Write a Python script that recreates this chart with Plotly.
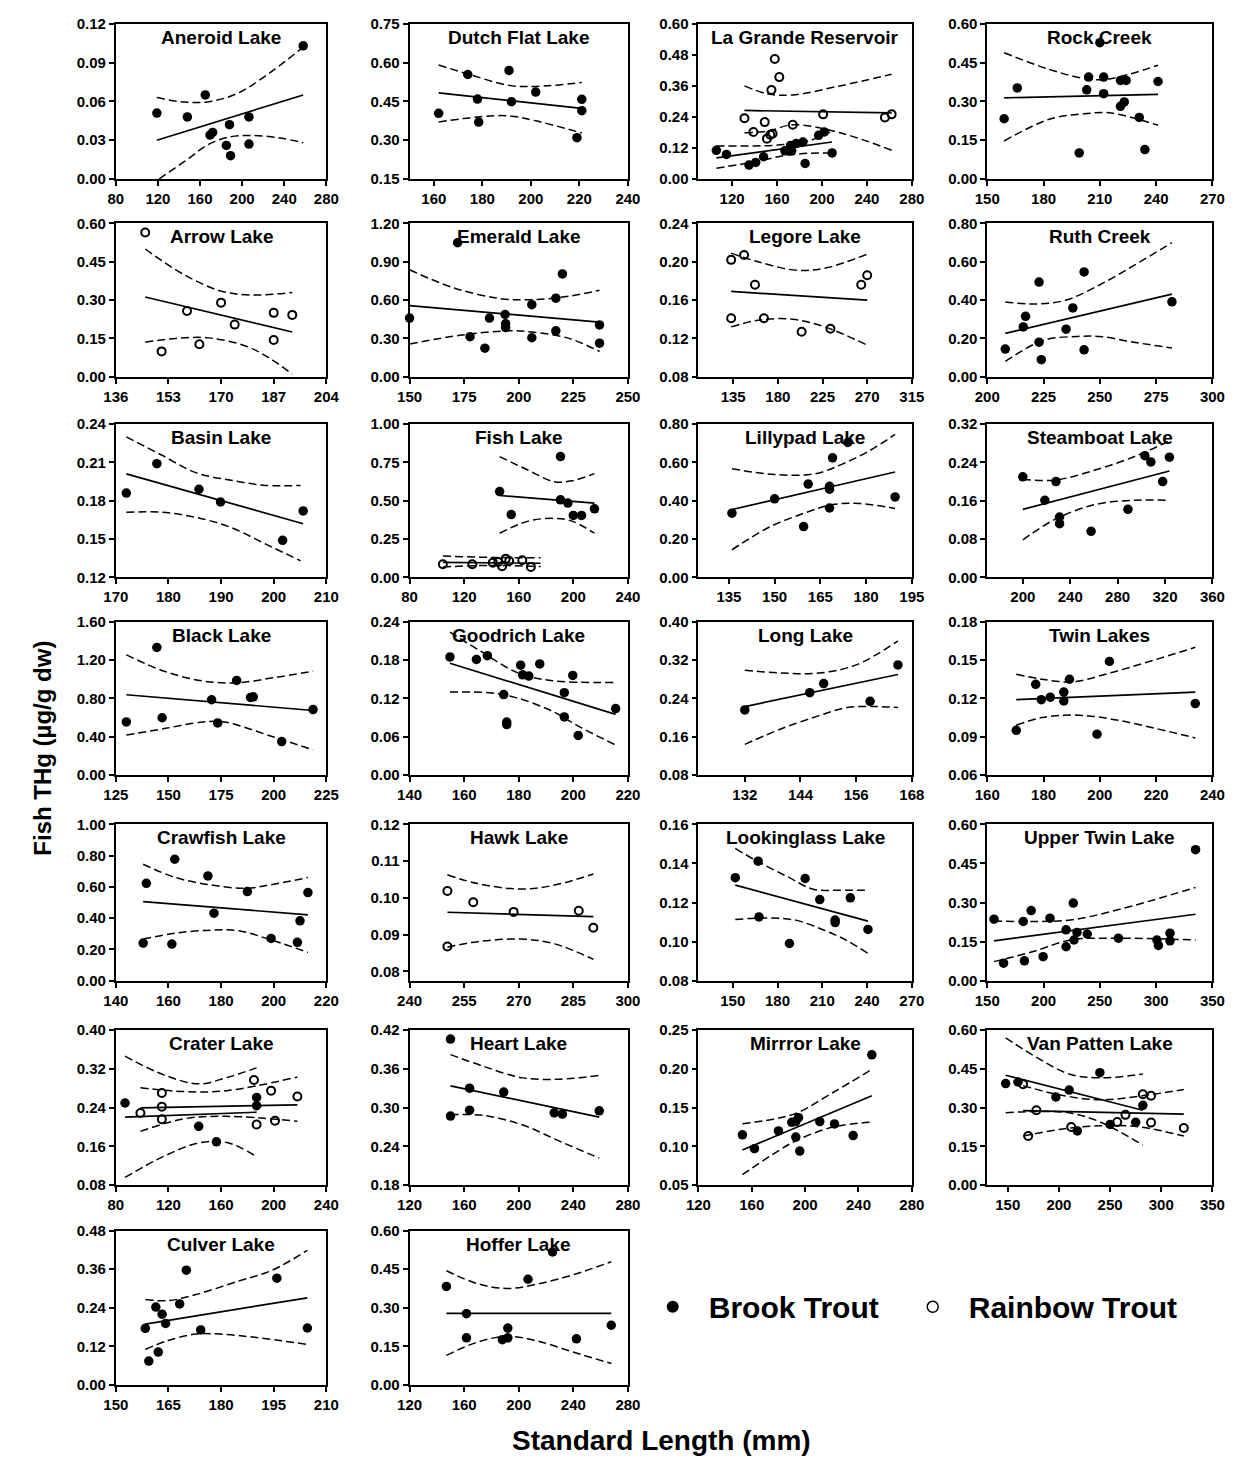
import plotly.graph_objects as go

W, H = 1247, 1466

# ======================= DATA =======================
# --- Aneroid Lake (brook trout)
aneroid_xticks = [80, 120, 160, 200, 240, 280]
aneroid_yticks = [0.00, 0.03, 0.06, 0.09, 0.12]
aneroid_bt_x = [119, 148, 165, 169.5, 172, 185, 188, 189, 206.5, 206.5, 258]
aneroid_bt_y = [0.051, 0.048, 0.065, 0.034, 0.036, 0.026, 0.042, 0.018, 0.048, 0.027, 0.103]
aneroid_bt_fit = [(119, 0.030), (258, 0.065)]
aneroid_bt_hi = [(119, 0.063), (145, 0.0595), (170, 0.060), (195, 0.066), (221, 0.079), (258, 0.102)]
aneroid_bt_lo = [(121, 0.0), (146, 0.014), (168.5, 0.027), (188, 0.0325), (208, 0.0336), (234, 0.032), (258, 0.028)]

# --- Dutch Flat Lake (brook trout)
dutch_xrange = [150, 240]
dutch_xticks = [160, 180, 200, 220, 240]
dutch_yticks = [0.15, 0.30, 0.45, 0.60, 0.75]
dutch_bt_x = [162, 174, 178, 178.5, 191, 192, 202, 219, 221, 221]
dutch_bt_y = [0.404, 0.554, 0.459, 0.370, 0.570, 0.449, 0.486, 0.310, 0.458, 0.414]
dutch_bt_fit = [(162, 0.483), (221, 0.423)]
dutch_bt_hi = [(162, 0.591), (175, 0.553), (191, 0.512), (202, 0.508), (221, 0.523)]
dutch_bt_lo = [(162, 0.370), (178, 0.390), (191, 0.394), (202, 0.375), (221, 0.328)]

# --- La Grande Reservoir (brook + rainbow)
lagrande_xrange = [90, 280]
lagrande_xticks = [120, 160, 200, 240, 280]
lagrande_yticks = [0.00, 0.12, 0.24, 0.36, 0.48, 0.60]
lagrande_bt_x = [106, 115, 135, 141, 148, 167, 172, 173, 177, 183, 185, 197, 202, 209]
lagrande_bt_y = [0.111, 0.095, 0.054, 0.064, 0.086, 0.109, 0.130, 0.109, 0.137, 0.143, 0.060, 0.169, 0.182, 0.101]
lagrande_bt_fit = [(106, 0.082), (209, 0.143)]
lagrande_bt_hi = [(106, 0.128), (140, 0.128), (166, 0.133), (190, 0.150), (209, 0.185)]
lagrande_bt_lo = [(106, 0.042), (140, 0.066), (166, 0.090), (190, 0.100), (209, 0.100)]
lagrande_rt_x = [131, 139, 149, 151, 154, 156, 155, 158, 162, 174, 201, 256, 262]
lagrande_rt_y = [0.235, 0.182, 0.220, 0.156, 0.171, 0.175, 0.344, 0.464, 0.394, 0.210, 0.250, 0.238, 0.250]
lagrande_rt_fit = [(131, 0.265), (262, 0.256)]
lagrande_rt_hi = [(131, 0.360), (152, 0.329), (174, 0.325), (216, 0.360), (262, 0.405)]
lagrande_rt_lo = [(131, 0.179), (152, 0.185), (174, 0.210), (216, 0.179), (262, 0.111)]

# --- Rock Creek (brook trout)
rock_xticks = [150, 180, 210, 240, 270]
rock_yticks = [0.00, 0.15, 0.30, 0.45, 0.60]
rock_bt_x = [159, 166, 199, 203, 204, 210, 212, 212, 221, 223, 221, 224, 231, 234, 241]
rock_bt_y = [0.233, 0.352, 0.101, 0.345, 0.394, 0.527, 0.394, 0.330, 0.281, 0.298, 0.381, 0.381, 0.238, 0.114, 0.377]
rock_bt_fit = [(159, 0.314), (241, 0.327)]
rock_bt_hi = [(159, 0.488), (183, 0.424), (203, 0.387), (215, 0.387), (241, 0.440)]
rock_bt_lo = [(159, 0.147), (183, 0.231), (203, 0.253), (215, 0.256), (241, 0.208)]

# --- Arrow Lake (rainbow trout)
arrow_xticks = [136, 153, 170, 187, 204]
arrow_yticks = [0.00, 0.15, 0.30, 0.45, 0.60]
arrow_rt_x = [145.5, 150.8, 159, 163, 170, 174.4, 187, 187, 193]
arrow_rt_y = [0.565, 0.099, 0.257, 0.127, 0.290, 0.204, 0.250, 0.144, 0.242]
arrow_rt_fit = [(145.5, 0.312), (193, 0.175)]
arrow_rt_hi = [(145.5, 0.500), (158, 0.400), (170, 0.335), (180, 0.320), (193, 0.330)]
arrow_rt_lo = [(145.5, 0.135), (155.5, 0.150), (166, 0.152), (178, 0.120), (186, 0.070), (193, 0.010)]

# --- Emerald Lake (brook trout)
emerald_xticks = [150, 175, 200, 225, 250]
emerald_yticks = [0.00, 0.30, 0.60, 0.90, 1.20]
emerald_bt_x = [150, 172, 177.7, 184.5, 186.6, 193.75, 194, 194, 206, 206, 217, 217, 220, 237, 237]
emerald_bt_y = [0.459, 1.049, 0.313, 0.223, 0.459, 0.487, 0.415, 0.385, 0.564, 0.305, 0.359, 0.615, 0.805, 0.405, 0.262]
emerald_bt_fit = [(150, 0.556), (237, 0.428)]
emerald_bt_hi = [(150, 0.838), (170, 0.697), (191, 0.613), (206, 0.603), (223, 0.630), (237, 0.677)]
emerald_bt_lo = [(150, 0.256), (174, 0.326), (195, 0.359), (206, 0.350), (223, 0.300), (237, 0.197)]

# --- Legore Lake (rainbow trout)
legore_xrange = [100, 315]
legore_xticks = [135, 180, 225, 270, 315]
legore_yticks = [0.08, 0.12, 0.16, 0.20, 0.24]
legore_rt_x = [133, 146, 157, 133, 166, 204, 233, 264, 270]
legore_rt_y = [0.202, 0.207, 0.176, 0.141, 0.141, 0.127, 0.130, 0.176, 0.186]
legore_rt_fit = [(133, 0.169), (270, 0.160)]
legore_rt_hi = [(133, 0.209), (160, 0.200), (200, 0.191), (230, 0.194), (270, 0.208)]
legore_rt_lo = [(133, 0.132), (160, 0.139), (195, 0.140), (230, 0.131), (270, 0.113)]

# --- Ruth Creek (brook trout)
ruth_xticks = [200, 225, 250, 275, 300]
ruth_yticks = [0.00, 0.20, 0.40, 0.60, 0.80]
ruth_bt_x = [208, 216, 217, 223, 223, 224, 235, 238, 243, 243, 282]
ruth_bt_y = [0.144, 0.260, 0.315, 0.494, 0.180, 0.089, 0.248, 0.359, 0.140, 0.547, 0.391]
ruth_bt_fit = [(208, 0.226), (282, 0.431)]
ruth_bt_hi = [(208, 0.390), (222, 0.380), (235, 0.400), (250, 0.480), (265, 0.580), (282, 0.700)]
ruth_bt_lo = [(208, 0.080), (225, 0.190), (240, 0.210), (250, 0.210), (265, 0.180), (282, 0.150)]

# --- Basin Lake (brook trout)
basin_xticks = [170, 180, 190, 200, 210]
basin_yticks = [0.12, 0.15, 0.18, 0.21, 0.24]
basin_bt_x = [172, 177.8, 185.8, 189.9, 201.7, 205.6]
basin_bt_y = [0.186, 0.209, 0.189, 0.179, 0.149, 0.172]
basin_bt_fit = [(172, 0.201), (205.6, 0.162)]
basin_bt_hi = [(172, 0.230), (178.6, 0.216), (185.2, 0.202), (191.9, 0.196), (198.5, 0.192), (205.1, 0.192)]
basin_bt_lo = [(172, 0.171), (178.6, 0.171), (185.2, 0.167), (191.9, 0.159), (198.5, 0.146), (205.1, 0.133)]

# --- Fish Lake (brook + rainbow)
fish_xticks = [80, 120, 160, 200, 240]
fish_yticks = [0.00, 0.25, 0.50, 0.75, 1.00]
fish_bt_x = [146, 154.5, 190.6, 190.6, 196, 200, 206, 215.5]
fish_bt_y = [0.560, 0.410, 0.788, 0.506, 0.485, 0.404, 0.404, 0.447]
fish_bt_fit = [(146, 0.534), (215.5, 0.485)]
fish_bt_hi = [(146, 0.788), (167, 0.699), (186, 0.624), (199, 0.630), (215.5, 0.677)]
fish_bt_lo = [(146, 0.288), (167, 0.367), (186, 0.385), (199, 0.367), (215.5, 0.288)]
fish_rt_x = [104.4, 126, 141, 145, 147.8, 150.5, 153, 162.6, 168.9]
fish_rt_y = [0.085, 0.085, 0.096, 0.100, 0.073, 0.122, 0.107, 0.111, 0.068]
fish_rt_fit = [(104.4, 0.097), (176, 0.092)]
fish_rt_hi = [(104.4, 0.139), (140, 0.130), (176, 0.128)]
fish_rt_lo = [(104.4, 0.068), (140, 0.078), (176, 0.070)]

# --- Lillypad Lake (brook trout)
lilly_xrange = [125, 195]
lilly_xticks = [135, 150, 165, 180, 195]
lilly_yticks = [0.00, 0.20, 0.40, 0.60, 0.80]
lilly_bt_x = [136, 150, 161, 159.5, 168, 168, 168, 169, 174, 189.5]
lilly_bt_y = [0.335, 0.410, 0.487, 0.265, 0.475, 0.460, 0.362, 0.624, 0.704, 0.420]
lilly_bt_fit = [(136, 0.354), (189.5, 0.550)]
lilly_bt_hi = [(136, 0.567), (150, 0.537), (163, 0.540), (172, 0.590), (181, 0.660), (189.5, 0.747)]
lilly_bt_lo = [(136, 0.144), (148, 0.260), (160, 0.337), (169, 0.380), (178, 0.385), (189.5, 0.360)]

# --- Steamboat Lake (brook trout)
steam_xrange = [170, 360]
steam_xticks = [200, 240, 280, 320, 360]
steam_yticks = [0.00, 0.08, 0.16, 0.24, 0.32]
steam_bt_x = [200, 218.6, 228, 231, 231, 257.6, 288.7, 303, 308, 318, 323.7]
steam_bt_y = [0.210, 0.161, 0.200, 0.126, 0.112, 0.096, 0.142, 0.254, 0.241, 0.200, 0.251]
steam_bt_fit = [(200, 0.142), (323.7, 0.222)]
steam_bt_hi = [(200, 0.205), (227, 0.203), (261, 0.224), (295, 0.253), (323.7, 0.285)]
steam_bt_lo = [(200, 0.078), (227, 0.121), (261, 0.152), (295, 0.161), (323.7, 0.161)]

# --- Black Lake (brook trout)
black_xticks = [125, 150, 175, 200, 225]
black_yticks = [0.00, 0.40, 0.80, 1.20, 1.60]
black_bt_x = [130, 144.5, 147, 170.5, 173.4, 182.4, 189, 190.3, 203.8, 218.7]
black_bt_y = [0.554, 1.333, 0.598, 0.786, 0.544, 0.988, 0.810, 0.817, 0.349, 0.684]
black_bt_fit = [(130, 0.838), (218.7, 0.674)]
black_bt_hi = [(130, 1.255), (148, 1.084), (166.5, 0.981), (183, 0.964), (199.6, 1.015), (218.7, 1.084)]
black_bt_lo = [(130, 0.417), (148, 0.485), (166.5, 0.554), (176.5, 0.554), (199.6, 0.400), (218.7, 0.263)]

# --- Goodrich Lake (brook trout)
good_xticks = [140, 160, 180, 200, 220]
good_yticks = [0.00, 0.06, 0.12, 0.18, 0.24]
good_bt_x = [154.8, 164.5, 168.5, 174.5, 175.6, 175.6, 180.7, 181.4, 183.7, 187.7, 196.7, 196.7, 199.8, 201.8, 215.5]
good_bt_y = [0.185, 0.181, 0.187, 0.126, 0.083, 0.079, 0.172, 0.157, 0.155, 0.174, 0.129, 0.091, 0.156, 0.062, 0.104]
good_bt_fit = [(154.8, 0.175), (215.5, 0.095)]
good_bt_hi = [(154.8, 0.224), (166, 0.194), (179.7, 0.160), (191.8, 0.148), (215.5, 0.145)]
good_bt_lo = [(154.8, 0.130), (169, 0.129), (178.3, 0.122), (191.8, 0.101), (202.5, 0.075), (215.5, 0.047)]

# --- Long Lake (brook trout)
long_xrange = [122, 168]
long_xticks = [132, 144, 156, 168]
long_yticks = [0.08, 0.16, 0.24, 0.32, 0.40]
long_bt_x = [132, 146, 149, 159, 165]
long_bt_y = [0.216, 0.252, 0.271, 0.234, 0.310]
long_bt_fit = [(132, 0.223), (165, 0.290)]
long_bt_hi = [(132, 0.299), (140, 0.293), (148, 0.293), (156, 0.310), (165, 0.360)]
long_bt_lo = [(132, 0.144), (140, 0.177), (148, 0.204), (154, 0.221), (160, 0.223), (165, 0.221)]

# --- Twin Lakes (brook trout)
twin_xticks = [160, 180, 200, 220, 240]
twin_yticks = [0.06, 0.09, 0.12, 0.15, 0.18]
twin_bt_x = [170.3, 177.2, 179.2, 182.4, 187.2, 187.2, 189.2, 199, 203.4, 233.9]
twin_bt_y = [0.095, 0.131, 0.119, 0.121, 0.125, 0.118, 0.135, 0.092, 0.149, 0.116]
twin_bt_fit = [(170.3, 0.119), (233.9, 0.125)]
twin_bt_hi = [(170.3, 0.139), (179.5, 0.135), (190.3, 0.133), (203.7, 0.140), (233.9, 0.160)]
twin_bt_lo = [(170.3, 0.099), (179.5, 0.105), (190.3, 0.107), (203.7, 0.104), (233.9, 0.089)]

# --- Crawfish Lake (brook trout)
craw_xticks = [140, 160, 180, 200, 220]
craw_yticks = [0.00, 0.20, 0.40, 0.60, 0.80, 1.00]
craw_bt_x = [150.4, 151.6, 162.4, 161.3, 175, 177.3, 190, 199, 209, 210, 213]
craw_bt_y = [0.240, 0.623, 0.777, 0.234, 0.670, 0.432, 0.570, 0.270, 0.245, 0.383, 0.564]
craw_bt_fit = [(150.4, 0.506), (213, 0.421)]
craw_bt_hi = [(150.4, 0.745), (162.7, 0.660), (176, 0.613), (189.3, 0.591), (200, 0.617), (213, 0.660)]
craw_bt_lo = [(150.4, 0.266), (162.7, 0.304), (176, 0.323), (186.7, 0.319), (200, 0.255), (213, 0.181)]

# --- Hawk Lake (rainbow trout)
hawk_xticks = [240, 255, 270, 285, 300]
hawk_yrange = [0.0775, 0.12]
hawk_yticks = [0.08, 0.09, 0.10, 0.11, 0.12]
hawk_rt_x = [250.4, 257.5, 268.6, 286.5, 290.5, 250.4]
hawk_rt_y = [0.1019, 0.0988, 0.0962, 0.0965, 0.0919, 0.0868]
hawk_rt_fit = [(250.4, 0.0961), (290.5, 0.0949)]
hawk_rt_hi = [(250.4, 0.1063), (258.7, 0.1039), (270.8, 0.1024), (279.9, 0.1035), (290.5, 0.1065)]
hawk_rt_lo = [(250.4, 0.0866), (258.7, 0.0881), (270.8, 0.0888), (279.9, 0.0875), (290.5, 0.0833)]

# --- Lookinglass Lake (brook trout)
look_xrange = [127, 270]
look_xticks = [150, 180, 210, 240, 270]
look_yticks = [0.08, 0.10, 0.12, 0.14, 0.16]
look_bt_x = [151.7, 167, 167.6, 188, 198.5, 208.3, 218.6, 218.6, 228.8, 240.6]
look_bt_y = [0.1327, 0.1412, 0.1126, 0.0990, 0.1323, 0.1215, 0.1110, 0.1097, 0.1224, 0.1062]
look_bt_fit = [(151.7, 0.1289), (240.6, 0.1105)]
look_bt_hi = [(151.7, 0.1477), (167, 0.1409), (186.8, 0.1332), (203.9, 0.1268), (221.1, 0.1263), (240.6, 0.1263)]
look_bt_lo = [(151.7, 0.1113), (172, 0.1121), (191.7, 0.1110), (211.3, 0.1058), (226, 0.1007), (240.6, 0.0940)]

# --- Upper Twin Lake (brook trout)
utwin_xticks = [150, 200, 250, 300, 350]
utwin_yticks = [0.00, 0.15, 0.30, 0.45, 0.60]
utwin_bt_x = [156, 164.5, 182, 183, 189, 199.6, 205.7, 220, 220, 226.4, 227, 229.7, 238.8, 266.5, 300.7, 302, 312.3, 312.3, 335]
utwin_bt_y = [0.236, 0.067, 0.227, 0.076, 0.269, 0.092, 0.240, 0.195, 0.130, 0.298, 0.156, 0.185, 0.179, 0.163, 0.156, 0.135, 0.182, 0.153, 0.503]
utwin_bt_fit = [(156, 0.153), (335, 0.255)]
utwin_bt_hi = [(156, 0.229), (191, 0.227), (224, 0.233), (266, 0.272), (335, 0.358)]
utwin_bt_lo = [(156, 0.073), (191, 0.112), (224, 0.156), (266, 0.163), (335, 0.156)]

# --- Crater Lake (brook + rainbow)
crater_xticks = [80, 120, 160, 200, 240]
crater_yticks = [0.08, 0.16, 0.24, 0.32, 0.40]
crater_bt_x = [87, 143, 156.5, 187, 187]
crater_bt_y = [0.2495, 0.2014, 0.1695, 0.261, 0.244]
crater_bt_fit = [(87, 0.2203), (187, 0.2305)]
crater_bt_hi = [(87, 0.346), (116, 0.308), (143, 0.289), (164.5, 0.302), (187, 0.322)]
crater_bt_lo = [(87, 0.096), (116, 0.139), (143, 0.167), (164.5, 0.168), (187, 0.139)]
crater_rt_x = [98.7, 115, 115, 115, 187, 185, 198, 201, 218]
crater_rt_y = [0.229, 0.270, 0.242, 0.216, 0.205, 0.297, 0.275, 0.213, 0.263]
crater_rt_fit = [(98.7, 0.2393), (218, 0.2458)]
crater_rt_hi = [(98.7, 0.281), (132, 0.273), (164.5, 0.275), (218, 0.303)]
crater_rt_lo = [(98.7, 0.191), (132, 0.217), (164.5, 0.222), (218, 0.212)]

# --- Heart Lake (brook trout)
heart_xticks = [120, 160, 200, 240, 280]
heart_yticks = [0.18, 0.24, 0.30, 0.36, 0.42]
heart_bt_x = [150, 150, 164, 164, 189, 226, 232, 259]
heart_bt_y = [0.406, 0.287, 0.330, 0.296, 0.324, 0.292, 0.290, 0.295]
heart_bt_fit = [(150, 0.3336), (259, 0.2853)]
heart_bt_hi = [(150, 0.382), (174, 0.364), (203, 0.346), (231, 0.344), (259, 0.350)]
heart_bt_lo = [(150, 0.289), (174, 0.288), (203, 0.273), (231, 0.247), (259, 0.222)]

# --- Mirrror Lake (brook trout)
mirror_xticks = [120, 160, 200, 240, 280]
mirror_yticks = [0.05, 0.10, 0.15, 0.20, 0.25]
mirror_bt_x = [153, 162, 180, 190, 193, 195, 193, 196, 211, 222, 236, 250]
mirror_bt_y = [0.115, 0.097, 0.120, 0.131, 0.132, 0.137, 0.112, 0.094, 0.132, 0.129, 0.114, 0.218]
mirror_bt_fit = [(153, 0.0953), (250, 0.1653)]
mirror_bt_hi = [(153, 0.1292), (175, 0.1347), (194, 0.1432), (221, 0.1695), (250, 0.1992)]
mirror_bt_lo = [(153, 0.0636), (175, 0.0890), (194, 0.1080), (221, 0.1250), (250, 0.1314)]

# --- Van Patten Lake (brook + rainbow)
vanp_xrange = [130, 350]
vanp_xticks = [150, 200, 250, 300, 350]
vanp_yticks = [0.00, 0.15, 0.30, 0.45, 0.60]
vanp_bt_x = [148, 160, 197, 210, 240, 218, 250, 275, 282]
vanp_bt_y = [0.393, 0.399, 0.341, 0.368, 0.435, 0.210, 0.235, 0.243, 0.309]
vanp_bt_fit = [(148, 0.425), (282, 0.290)]
vanp_bt_hi = [(148, 0.570), (180, 0.490), (210, 0.430), (240, 0.415), (282, 0.430)]
vanp_bt_lo = [(148, 0.280), (180, 0.285), (210, 0.280), (240, 0.245), (282, 0.155)]
vanp_rt_x = [165, 170, 178, 212, 257, 265, 282, 290, 290, 322]
vanp_rt_y = [0.390, 0.190, 0.290, 0.225, 0.244, 0.272, 0.352, 0.346, 0.242, 0.221]
vanp_rt_fit = [(165, 0.288), (322, 0.275)]
vanp_rt_hi = [(165, 0.385), (200, 0.350), (240, 0.330), (280, 0.345), (322, 0.370)]
vanp_rt_lo = [(165, 0.190), (200, 0.215), (240, 0.230), (280, 0.225), (322, 0.190)]

# --- Culver Lake (brook trout)
culver_xticks = [150, 165, 180, 195, 210]
culver_yticks = [0.00, 0.12, 0.24, 0.36, 0.48]
culver_bt_x = [158.4, 159.4, 161.4, 162.1, 163.2, 164.2, 168.2, 170.1, 174.2, 195.9, 204.6]
culver_bt_y = [0.176, 0.074, 0.242, 0.102, 0.220, 0.191, 0.252, 0.357, 0.171, 0.332, 0.177]
culver_bt_fit = [(158.4, 0.189), (204.6, 0.271)]
culver_bt_hi = [(158.4, 0.266), (164.9, 0.262), (172.8, 0.281), (184.7, 0.322), (194.6, 0.357), (204.6, 0.419)]
culver_bt_lo = [(158.4, 0.110), (164.9, 0.138), (172.8, 0.158), (179.7, 0.158), (189.6, 0.148), (204.6, 0.126)]

# --- Hoffer Lake (brook trout)
hoffer_xticks = [120, 160, 200, 240, 280]
hoffer_yticks = [0.00, 0.15, 0.30, 0.45, 0.60]
hoffer_bt_x = [147, 161.7, 161.7, 188, 192, 192, 206.8, 224.8, 242.3, 267.8]
hoffer_bt_y = [0.383, 0.277, 0.183, 0.176, 0.183, 0.221, 0.411, 0.517, 0.179, 0.232]
hoffer_bt_fit = [(147, 0.278), (267.8, 0.278)]
hoffer_bt_hi = [(147, 0.444), (169.7, 0.394), (191.2, 0.375), (212.7, 0.391), (239.6, 0.428), (267.8, 0.479)]
hoffer_bt_lo = [(147, 0.115), (169.7, 0.166), (191.2, 0.189), (212.7, 0.172), (239.6, 0.128), (267.8, 0.083)]

legend_labels = ["Brook Trout", "Rainbow Trout"]

# panel table (row-major order)
panels = [
    ("Aneroid Lake", None, aneroid_xticks, None, aneroid_yticks,
     [("bt", aneroid_bt_x, aneroid_bt_y, aneroid_bt_fit, aneroid_bt_hi, aneroid_bt_lo)]),
    ("Dutch Flat Lake", dutch_xrange, dutch_xticks, None, dutch_yticks,
     [("bt", dutch_bt_x, dutch_bt_y, dutch_bt_fit, dutch_bt_hi, dutch_bt_lo)]),
    ("La Grande Reservoir", lagrande_xrange, lagrande_xticks, None, lagrande_yticks,
     [("bt", lagrande_bt_x, lagrande_bt_y, lagrande_bt_fit, lagrande_bt_hi, lagrande_bt_lo),
      ("rt", lagrande_rt_x, lagrande_rt_y, lagrande_rt_fit, lagrande_rt_hi, lagrande_rt_lo)]),
    ("Rock Creek", None, rock_xticks, None, rock_yticks,
     [("bt", rock_bt_x, rock_bt_y, rock_bt_fit, rock_bt_hi, rock_bt_lo)]),
    ("Arrow Lake", None, arrow_xticks, None, arrow_yticks,
     [("rt", arrow_rt_x, arrow_rt_y, arrow_rt_fit, arrow_rt_hi, arrow_rt_lo)]),
    ("Emerald Lake", None, emerald_xticks, None, emerald_yticks,
     [("bt", emerald_bt_x, emerald_bt_y, emerald_bt_fit, emerald_bt_hi, emerald_bt_lo)]),
    ("Legore Lake", legore_xrange, legore_xticks, None, legore_yticks,
     [("rt", legore_rt_x, legore_rt_y, legore_rt_fit, legore_rt_hi, legore_rt_lo)]),
    ("Ruth Creek", None, ruth_xticks, None, ruth_yticks,
     [("bt", ruth_bt_x, ruth_bt_y, ruth_bt_fit, ruth_bt_hi, ruth_bt_lo)]),
    ("Basin Lake", None, basin_xticks, None, basin_yticks,
     [("bt", basin_bt_x, basin_bt_y, basin_bt_fit, basin_bt_hi, basin_bt_lo)]),
    ("Fish Lake", None, fish_xticks, None, fish_yticks,
     [("bt", fish_bt_x, fish_bt_y, fish_bt_fit, fish_bt_hi, fish_bt_lo),
      ("rt", fish_rt_x, fish_rt_y, fish_rt_fit, fish_rt_hi, fish_rt_lo)]),
    ("Lillypad Lake", lilly_xrange, lilly_xticks, None, lilly_yticks,
     [("bt", lilly_bt_x, lilly_bt_y, lilly_bt_fit, lilly_bt_hi, lilly_bt_lo)]),
    ("Steamboat Lake", steam_xrange, steam_xticks, None, steam_yticks,
     [("bt", steam_bt_x, steam_bt_y, steam_bt_fit, steam_bt_hi, steam_bt_lo)]),
    ("Black Lake", None, black_xticks, None, black_yticks,
     [("bt", black_bt_x, black_bt_y, black_bt_fit, black_bt_hi, black_bt_lo)]),
    ("Goodrich Lake", None, good_xticks, None, good_yticks,
     [("bt", good_bt_x, good_bt_y, good_bt_fit, good_bt_hi, good_bt_lo)]),
    ("Long Lake", long_xrange, long_xticks, None, long_yticks,
     [("bt", long_bt_x, long_bt_y, long_bt_fit, long_bt_hi, long_bt_lo)]),
    ("Twin Lakes", None, twin_xticks, None, twin_yticks,
     [("bt", twin_bt_x, twin_bt_y, twin_bt_fit, twin_bt_hi, twin_bt_lo)]),
    ("Crawfish Lake", None, craw_xticks, None, craw_yticks,
     [("bt", craw_bt_x, craw_bt_y, craw_bt_fit, craw_bt_hi, craw_bt_lo)]),
    ("Hawk Lake", None, hawk_xticks, hawk_yrange, hawk_yticks,
     [("rt", hawk_rt_x, hawk_rt_y, hawk_rt_fit, hawk_rt_hi, hawk_rt_lo)]),
    ("Lookinglass Lake", look_xrange, look_xticks, None, look_yticks,
     [("bt", look_bt_x, look_bt_y, look_bt_fit, look_bt_hi, look_bt_lo)]),
    ("Upper Twin Lake", None, utwin_xticks, None, utwin_yticks,
     [("bt", utwin_bt_x, utwin_bt_y, utwin_bt_fit, utwin_bt_hi, utwin_bt_lo)]),
    ("Crater Lake", None, crater_xticks, None, crater_yticks,
     [("bt", crater_bt_x, crater_bt_y, crater_bt_fit, crater_bt_hi, crater_bt_lo),
      ("rt", crater_rt_x, crater_rt_y, crater_rt_fit, crater_rt_hi, crater_rt_lo)]),
    ("Heart Lake", None, heart_xticks, None, heart_yticks,
     [("bt", heart_bt_x, heart_bt_y, heart_bt_fit, heart_bt_hi, heart_bt_lo)]),
    ("Mirrror Lake", None, mirror_xticks, None, mirror_yticks,
     [("bt", mirror_bt_x, mirror_bt_y, mirror_bt_fit, mirror_bt_hi, mirror_bt_lo)]),
    ("Van Patten Lake", vanp_xrange, vanp_xticks, None, vanp_yticks,
     [("bt", vanp_bt_x, vanp_bt_y, vanp_bt_fit, vanp_bt_hi, vanp_bt_lo),
      ("rt", vanp_rt_x, vanp_rt_y, vanp_rt_fit, vanp_rt_hi, vanp_rt_lo)]),
    ("Culver Lake", None, culver_xticks, None, culver_yticks,
     [("bt", culver_bt_x, culver_bt_y, culver_bt_fit, culver_bt_hi, culver_bt_lo)]),
    ("Hoffer Lake", None, hoffer_xticks, None, hoffer_yticks,
     [("bt", hoffer_bt_x, hoffer_bt_y, hoffer_bt_fit, hoffer_bt_hi, hoffer_bt_lo)]),
]

# ======================= LAYOUT / STYLE =======================
FONT = "Liberation Sans, Arial, Helvetica, sans-serif"
COL_L = [105, 405, 700, 995]
COL_R = [320, 628, 918, 1225]
ROW_T = [15, 217, 420, 620, 825, 1033, 1236]
ROW_B = [172, 372, 575, 775, 983, 1190, 1392]

fig = go.Figure()
layout = dict(
    width=W, height=H, margin=dict(l=0, r=0, t=0, b=0),
    paper_bgcolor="white", plot_bgcolor="white",
    font=dict(family=FONT, color="black"),
    showlegend=True,
)
annotations = []

def split(pairs):
    return [p[0] for p in pairs], [p[1] for p in pairs]

for i, (name, xr, xt, yr, yt, series) in enumerate(panels):
    r, c = divmod(i, 4)
    n = i + 1
    xa = "x" if n == 1 else f"x{n}"
    ya = "y" if n == 1 else f"y{n}"
    axis_common = dict(
        showline=True, mirror=True, linecolor="black", linewidth=1.8,
        ticks="outside", ticklen=5, tickwidth=1.6, tickcolor="black",
        showgrid=False, zeroline=False,
        tickfont=dict(family=FONT, size=15, color="black", weight="bold"),
    )
    layout[f"xaxis{'' if n == 1 else n}"] = dict(
        axis_common,
        domain=[COL_L[c] / W, COL_R[c] / W],
        range=xr if xr is not None else [xt[0], xt[-1]],
        tickvals=xt, ticktext=[str(v) for v in xt],
        anchor=ya,
    )
    layout[f"yaxis{'' if n == 1 else n}"] = dict(
        axis_common,
        domain=[1 - ROW_B[r] / H, 1 - ROW_T[r] / H],
        range=yr if yr is not None else [yt[0], yt[-1]],
        tickvals=yt, ticktext=[f"{v:.2f}" for v in yt],
        anchor=xa,
    )
    for kind, px, py, fit, hi, lo in series:
        for band in (hi, lo):
            bx, by = split(band)
            fig.add_trace(go.Scatter(
                x=bx, y=by, mode="lines", xaxis=xa, yaxis=ya, showlegend=False,
                line=dict(color="black", width=1.5, dash="8px,4px", shape="spline", smoothing=1.0),
                hoverinfo="skip"))
        fx, fy = split(fit)
        fig.add_trace(go.Scatter(
            x=fx, y=fy, mode="lines", xaxis=xa, yaxis=ya, showlegend=False,
            line=dict(color="black", width=1.7), hoverinfo="skip"))
        if kind == "bt":
            marker = dict(symbol="circle", size=9.5, color="black")
        else:
            marker = dict(symbol="circle-open", size=8, color="black", line=dict(width=2, color="black"))
        fig.add_trace(go.Scatter(
            x=px, y=py, mode="markers", xaxis=xa, yaxis=ya, showlegend=False,
            marker=marker, cliponaxis=False))
    annotations.append(dict(
        text=name, xref=f"{xa} domain", yref=f"{ya} domain", x=0.5, y=1.0,
        xanchor="center", yanchor="top", yshift=-1, showarrow=False,
        font=dict(family=FONT, size=19, color="black", weight="bold")))

# legend traces
fig.add_trace(go.Scatter(x=[None], y=[None], mode="markers", name=legend_labels[0],
                         legendwidth=183,
                         marker=dict(symbol="circle", size=12, color="black")))
fig.add_trace(go.Scatter(x=[None], y=[None], mode="markers", name=legend_labels[1],
                         legendwidth=250,
                         marker=dict(symbol="circle-open", size=11, color="black",
                                     line=dict(width=1.5, color="black"))))

layout["legend"] = dict(
    orientation="h", x=637 / W, y=1 - 1313 / H, xanchor="left", yanchor="middle",
    font=dict(family=FONT, size=30, color="black", weight="bold"),
    itemwidth=62, entrywidthmode="pixels", itemsizing="trace",
    bgcolor="rgba(0,0,0,0)",
)

annotations.append(dict(
    text="Fish THg (µg/g dw)", xref="paper", yref="paper",
    x=30 / W, y=1 - 748 / H, xanchor="center", yanchor="middle", textangle=-90,
    showarrow=False, font=dict(family=FONT, size=24, color="black", weight="bold")))
annotations.append(dict(
    text="Standard Length (mm)", xref="paper", yref="paper",
    x=662 / W, y=1 - 1448 / H, xanchor="center", yanchor="middle",
    showarrow=False, font=dict(family=FONT, size=28, color="black", weight="bold")))

layout["annotations"] = annotations
fig.update_layout(**layout)
fig.write_html("out.html")
